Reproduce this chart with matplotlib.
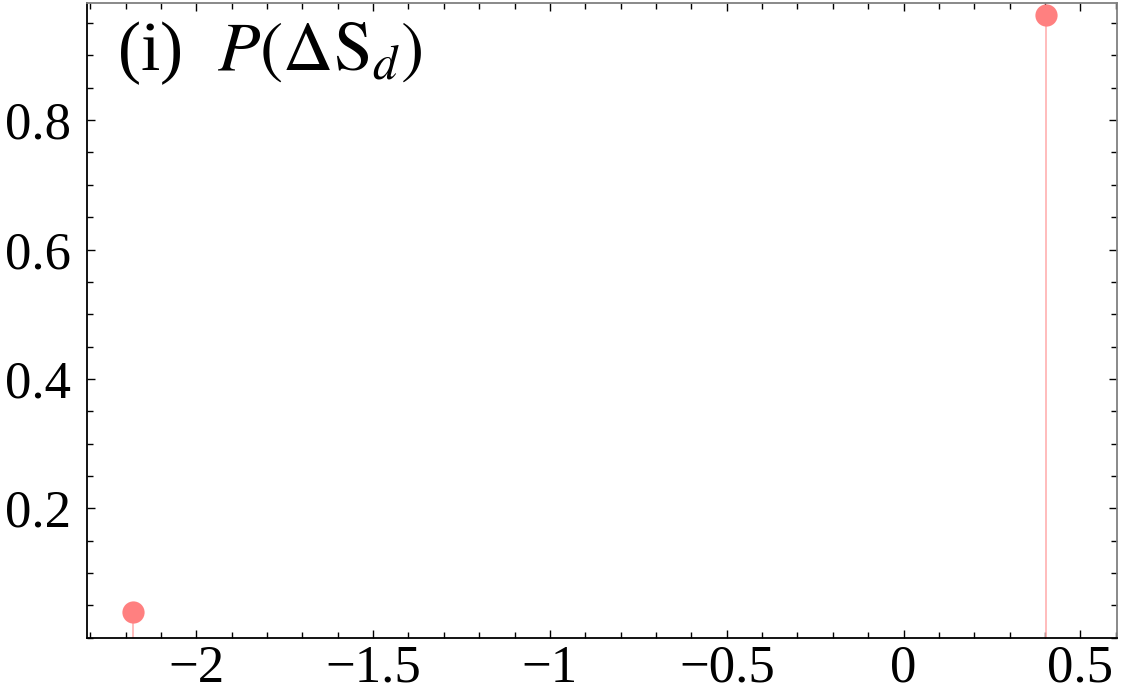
import matplotlib
matplotlib.use("Agg")
import matplotlib.pyplot as plt
from matplotlib.ticker import MultipleLocator

# values
dS = [-2.18, 0.403]
prob = [0.04, 0.963]
xtick_vals = [-2, -1.5, -1, -0.5, 0, 0.5]
xtick_labels = ["\u22122", "\u22121.5", "\u22121", "\u22120.5", "0", "0.5"]
ytick_vals = [0.2, 0.4, 0.6, 0.8]
ytick_labels = ["0.2", "0.4", "0.6", "0.8"]

plt.rcParams['font.family'] = ['Liberation Serif', 'DejaVu Serif']
plt.rcParams['mathtext.fontset'] = 'stix'

fig = plt.figure(figsize=(11.27, 6.97), dpi=100)
ax = fig.add_axes([0.0775, 0.085, 0.9135, 0.9107])

ax.vlines(dS, 0, prob, color='#ffb0b0', lw=1.2, zorder=2)
ax.plot(dS, prob, 'o', color='#ff8080', ms=16, mec='none', zorder=3, clip_on=False)

ax.set_xlim(-2.308, 0.603)
ax.set_ylim(0, 0.981)

ax.set_xticks(xtick_vals)
ax.set_xticklabels(xtick_labels)
ax.set_yticks(ytick_vals)
ax.set_yticklabels(ytick_labels)
ax.xaxis.set_minor_locator(MultipleLocator(0.1))
ax.yaxis.set_minor_locator(MultipleLocator(0.05))

ax.tick_params(which='both', direction='in', top=True, right=True, labelsize=38, width=1)
ax.tick_params(which='major', length=6)
ax.tick_params(which='minor', length=4)
ax.tick_params(axis='y', which='major', pad=12)
ax.tick_params(axis='x', which='major', pad=5)

for side in ['left', 'bottom']:
    ax.spines[side].set_color('black')
    ax.spines[side].set_linewidth(1.3)
for side in ['top', 'right']:
    ax.spines[side].set_color('#808080')
    ax.spines[side].set_linewidth(1.3)

ax.text(0.029, 0.975, r'(i)  $P(\Delta\mathrm{S}_d)$', transform=ax.transAxes,
        fontsize=50, va='top', ha='left')

fig.savefig('out.png', dpi=100)
